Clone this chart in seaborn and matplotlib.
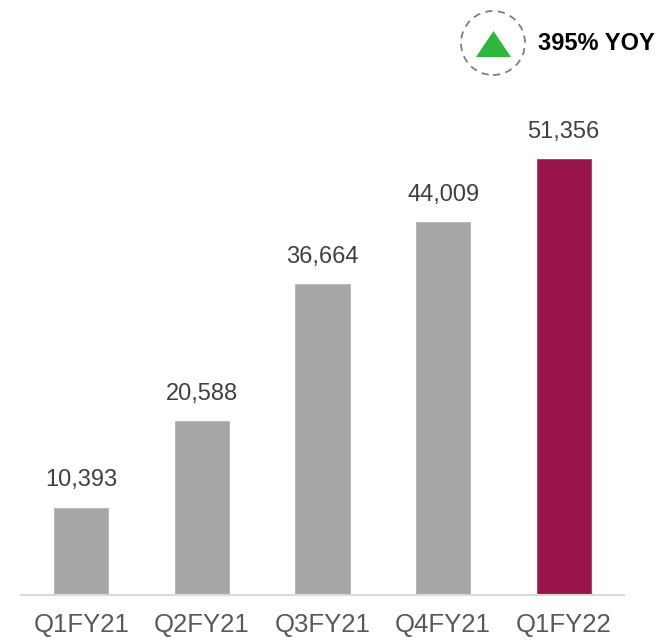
import matplotlib
matplotlib.use("Agg")
import matplotlib.pyplot as plt
from matplotlib.patches import Ellipse, Polygon
import seaborn as sns
import pandas as pd

# datos
quarters = ["Q1FY21", "Q2FY21", "Q3FY21", "Q4FY21", "Q1FY22"]
values = [10393, 20588, 36664, 44009, 51356]
bar_colors = ["#A6A6A6", "#A6A6A6", "#A6A6A6", "#A6A6A6", "#99154B"]
yoy_text = "395% YOY"

sns.set_theme(style="white")
plt.rcParams["font.family"] = ["Liberation Sans", "DejaVu Sans"]

df = pd.DataFrame({"quarter": quarters, "value": values})

fig = plt.figure(figsize=(6.59, 6.41), dpi=100)
ax = fig.add_axes([21 / 659, 1 - 595 / 641, 603 / 659, 595 / 641])

sns.barplot(data=df, x="quarter", y="value", hue="quarter",
            palette=bar_colors, legend=False, width=0.465,
            saturation=1, ax=ax)

for cont in ax.containers:
    ax.bar_label(cont, labels=[f"{v:,.0f}" for v in cont.datavalues],
                 padding=11, fontsize=17, color="#404040")

ax.set_xlim(-0.5, len(quarters) - 0.5)
ax.set_ylim(0, 70000)
ax.set_xlabel("")
ax.set_ylabel("")
ax.set_yticks([])
ax.tick_params(axis="x", length=0, pad=13, labelsize=18.5, labelcolor="#595959")
for s in ["top", "right", "left"]:
    ax.spines[s].set_visible(False)
ax.spines["bottom"].set_color("#D9D9D9")
ax.spines["bottom"].set_linewidth(1.5)
ax.patch.set_alpha(0)

# insignia YOY
W, H = 659, 641
fig.patches.append(Ellipse((493 / W, 1 - 43 / H), 64 / W, 64 / H,
                           transform=fig.transFigure, fill=False,
                           edgecolor="#808080", linewidth=1.3,
                           linestyle=(0, (4, 3))))
tri = [(476 / W, 1 - 57 / H), (511 / W, 1 - 57 / H), (493.5 / W, 1 - 31 / H)]
fig.patches.append(Polygon(tri, closed=True, transform=fig.transFigure,
                           facecolor="#2DB83D", edgecolor="none"))
fig.text(538 / W, 1 - 43 / H, yoy_text, fontsize=17, fontweight="bold",
         color="black", va="center", ha="left")

fig.savefig("out.png", dpi=100)
